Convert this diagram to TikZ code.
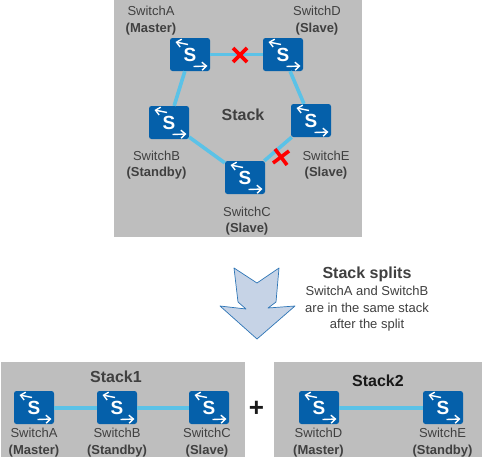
\documentclass[tikz,border=0pt]{standalone}
\usepackage{fontspec}
\setmainfont{Liberation Sans}
\usetikzlibrary{calc,arrows.meta}
\definecolor{panelgray}{HTML}{BEBEBE}
\definecolor{swblue}{HTML}{0560AA}
\definecolor{linkblue}{HTML}{5BC2E7}
\definecolor{txtgray}{HTML}{404040}
\definecolor{arrowfill}{HTML}{C6D3E6}
\definecolor{arrowedge}{HTML}{2E75B6}
\tikzset{
  panel/.style={fill=panelgray,draw=none},
  swbox/.style={fill=swblue,draw=none,rounded corners=2.5pt,minimum width=40pt,minimum height=33pt,inner sep=0pt,text=white,font=\fontsize{19}{19}\selectfont\bfseries},
  wharrow/.style={draw=white,line width=1.4pt,-{Straight Barb[length=4.5pt,width=8pt]}},
  link/.style={draw=linkblue,line width=3.6pt},
  lab/.style={align=center,inner sep=0pt,text=txtgray,font=\fontsize{13}{16.5}\selectfont},
  title/.style={align=center,inner sep=0pt,text=black!85,font=\fontsize{16}{18}\selectfont\bfseries},
  cross/.style={draw=red,line width=3.6pt},
}
\newcommand{\swdraw}[3]{%
  \node[swbox] (#1) at (#2,#3) {\raisebox{-1.5pt}{S}};
  \draw[wharrow] ($(#1.center)+(-2,-10)$) -- ($(#1.center)+(-14.5,-12.5)$);
  \draw[wharrow] ($(#1.center)+(3.5,12)$) -- ($(#1.center)+(17.5,11.5)$);
}
\newcommand{\swlab}[4]{\node[lab] (#1) at (#2,#3) {#4};}
\begin{document}
\begin{tikzpicture}[x=1pt,y=-1pt]
\useasboundingbox (0,0) rectangle (482,458);
\fill[white] (0,0) rectangle (482,458);
\node[panel,minimum width=248pt,minimum height=237pt,inner sep=0pt] (top) at (238,118.5) {};
\node[panel,minimum width=244pt,minimum height=95pt,inner sep=0pt] (left) at (123,409.5) {};
\node[panel,minimum width=208pt,minimum height=95pt,inner sep=0pt] (right) at (378,409.5) {};
% top ring
\swdraw{A}{190}{54.5}
\swdraw{D}{283}{54.5}
\swdraw{E}{311}{120.5}
\swdraw{C}{245}{177.5}
\swdraw{B}{169}{122.5}
\draw[link] (A) -- (D);
\draw[link] (D) -- (E);
\draw[link] (E) -- (C);
\draw[link] (C) -- (B);
\draw[link] (B) -- (A);
\coordinate (x1) at (240,55);
\coordinate (x2) at (281,157);
\draw[cross] ($(x1)+(-7,-7)$) -- ($(x1)+(7,7)$);
\draw[cross] ($(x1)+(-7,7)$) -- ($(x1)+(7,-7)$);
\draw[cross] ($(x2)+(-6,-8)$) -- ($(x2)+(6,8)$);
\draw[cross] ($(x2)+(-8,6)$) -- ($(x2)+(8,-6)$);
\swlab{la}{151}{20.5}{SwitchA\\\textbf{(Master)}}
\swlab{ld}{317}{20.5}{SwitchD\\\textbf{(Slave)}}
\swlab{lb}{156.5}{165}{SwitchB\\\textbf{(Standby)}}
\swlab{le}{326}{165}{SwitchE\\\textbf{(Slave)}}
\swlab{lc}{247}{221}{SwitchC\\\textbf{(Slave)}}
\node[title,text=txtgray] (stack) at (243,114.5) {Stack};
% arrow
\draw[fill=arrowfill,draw=arrowedge,line width=0.7pt,line join=round] (234,268) -- (257,283) -- (279,268) -- (276,302) -- (268,308) -- (295,306) -- (257,339) -- (220,306) -- (246,309) -- (238,302) -- cycle;
\node[title,text=txtgray] (split) at (367,274) {Stack splits};
\node[lab] (splitnote) at (367,309) {SwitchA and SwitchB\\are in the same stack\\after the split};
% bottom
\swdraw{A2}{34}{407.5}
\swdraw{B2}{117}{407.5}
\swdraw{C2}{209}{407.5}
\swdraw{D2}{319}{407.5}
\swdraw{E2}{443}{407.5}
\draw[link,line width=4pt] (A2) -- (B2);
\draw[link,line width=4pt] (B2) -- (C2);
\draw[link,line width=4pt] (D2) -- (E2);
\swlab{la2}{34}{442.5}{SwitchA\\\textbf{(Master)}}
\swlab{lb2}{117}{442.5}{SwitchB\\\textbf{(Standby)}}
\swlab{lc2}{207}{442.5}{SwitchC\\\textbf{(Slave)}}
\swlab{ld2}{318.5}{442.5}{SwitchD\\\textbf{(Master)}}
\swlab{le2}{442.5}{442.5}{SwitchE\\\textbf{(Standby)}}
\node[title,text=txtgray] (s1) at (116,377) {Stack1};
\node[title,text=black!90] (s2) at (378,381) {Stack2};
\node[inner sep=0pt,font=\fontsize{26}{26}\selectfont\bfseries,text=black!90] (plus) at (256.5,409) {+};
\end{tikzpicture}
\end{document}
